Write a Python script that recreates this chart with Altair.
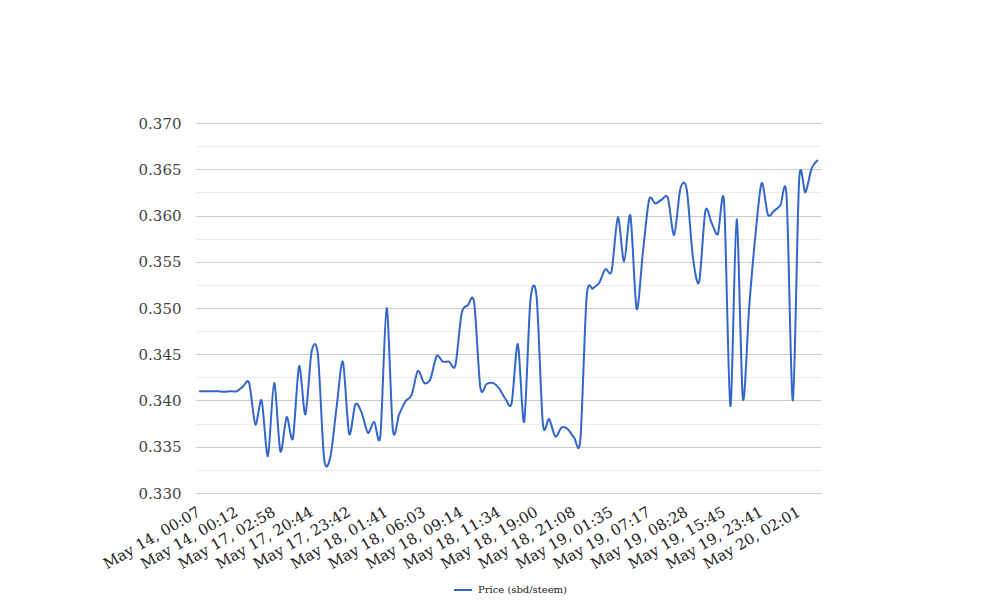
import json
import altair as alt
import pandas as pd

# Price series (sbd/steem), 100 consecutive trades
prices = [
    0.3410, 0.3410, 0.3410, 0.3410, 0.34095, 0.3410, 0.3410, 0.3415, 0.3419, 0.3374,
    0.3400, 0.3340, 0.3419, 0.3345, 0.3382, 0.3359, 0.3437, 0.3385, 0.3453, 0.3450,
    0.3337, 0.3339, 0.3393, 0.3442, 0.3364, 0.3396, 0.3387, 0.3365, 0.3377, 0.3362,
    0.3500, 0.3368, 0.3385, 0.3399, 0.3406, 0.3432, 0.3419, 0.3423, 0.3448, 0.3442,
    0.3442, 0.3438, 0.3494, 0.3503, 0.3506, 0.3414, 0.3418, 0.3419, 0.3413, 0.3402,
    0.3397, 0.3461, 0.3377, 0.3508, 0.3512, 0.3375, 0.3380, 0.3361, 0.3371, 0.3369,
    0.3360, 0.3358, 0.3512, 0.3521, 0.3527, 0.3542, 0.3540, 0.3598, 0.3550, 0.3600,
    0.3499, 0.3560, 0.3617, 0.3613, 0.3617, 0.3619, 0.3579, 0.3629, 0.3629, 0.3555,
    0.3528, 0.3605, 0.3592, 0.3580, 0.3614, 0.3394, 0.3596, 0.3402, 0.3500, 0.3578,
    0.3635, 0.3601, 0.3605, 0.3611, 0.3620, 0.3400, 0.3638, 0.3625, 0.3651, 0.3660,
]

# Category labels shown on the x axis (every 6th trade)
tick_labels = [
    "May 14, 00:07", "May 14, 00:12", "May 17, 02:58", "May 17, 20:44",
    "May 17, 23:42", "May 18, 01:41", "May 18, 06:03", "May 18, 09:14",
    "May 18, 11:34", "May 18, 19:00", "May 18, 21:08", "May 19, 01:35",
    "May 19, 07:17", "May 19, 08:28", "May 19, 15:45", "May 19, 23:41",
    "May 20, 02:01",
]
label_step = 6

# y axis ticks (major every 0.005, minor every 0.0025)
y_ticks = [0.330, 0.3325, 0.335, 0.3375, 0.340, 0.3425, 0.345, 0.3475, 0.350,
           0.3525, 0.355, 0.3575, 0.360, 0.3625, 0.365, 0.3675, 0.370]

series_name = "Price (sbd/steem)"

df = pd.DataFrame({
    "idx": list(range(len(prices))),
    "price": prices,
    "series": [series_name] * len(prices),
})

FONT = "DejaVu Serif"
n = len(prices)

x_label_expr = json.dumps(tick_labels) + "[round(datum.value / %d)]" % label_step

chart = alt.Chart(df).mark_line(
    interpolate="cardinal", tension=0.15, strokeWidth=2
).encode(
    x=alt.X(
        "idx:Q",
        scale=alt.Scale(domain=[-0.5, n - 0.5], nice=False, zero=False),
        axis=alt.Axis(
            title=None,
            values=list(range(0, n, label_step)),
            labelExpr=x_label_expr,
            labelAngle=-30,
            labelAlign="right",
            labelBaseline="top",
            labelPadding=11,
            labelOffset=-4,
            labelFont=FONT,
            labelFontSize=15,
            labelColor="#222222",
            labelOverlap=False,
            ticks=False,
            tickSize=0,
            domain=False,
            grid=False,
        ),
    ),
    y=alt.Y(
        "price:Q",
        scale=alt.Scale(domain=[0.330, 0.370], nice=False, zero=False),
        axis=alt.Axis(
            title=None,
            values=y_ticks,
            labelExpr="round(datum.value*10000) % 50 == 0 ? format(datum.value, '.3f') : ''",
            labelFont=FONT,
            labelFontSize=15,
            labelColor="#444444",
            labelPadding=15,
            ticks=False,
            tickSize=0,
            domain=False,
            grid=True,
            gridColor={
                "condition": {"test": "round(datum.value*10000) % 50 != 0", "value": "#ebebeb"},
                "value": "#cccccc",
            },
            gridWidth=1,
        ),
    ),
    color=alt.Color(
        "series:N",
        scale=alt.Scale(range=["#3366cc"]),
        legend=alt.Legend(
            title=None,
            orient="none",
            legendX=257,
            legendY=457,
            symbolType="stroke",
            symbolSize=324,
            symbolStrokeWidth=2,
            labelFont=FONT,
            labelFontSize=10,
            labelColor="#222222",
            labelOffset=5,
            padding=0,
        ),
    ),
).properties(
    width=625,
    height=370,
    padding={"left": 188, "top": 115, "right": 170, "bottom": 115},
    autosize=alt.AutoSizeParams(type="none"),
    background="white",
).configure_view(stroke=None)

chart.save("out.html", embed_options={"renderer": "svg", "actions": False})
